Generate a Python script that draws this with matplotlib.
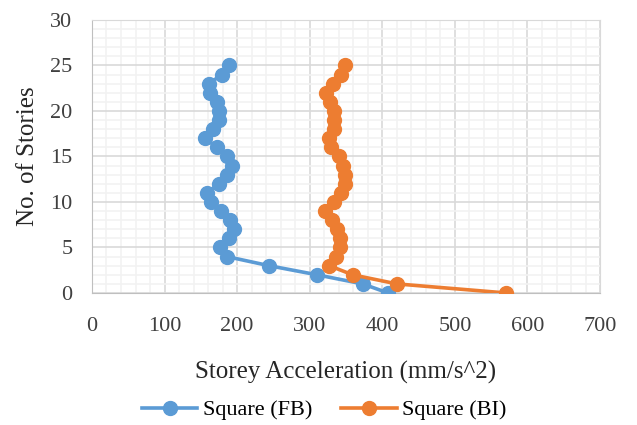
import matplotlib
matplotlib.use("Agg")
import matplotlib.pyplot as plt
from matplotlib.ticker import MultipleLocator

plt.rcParams['font.family'] = ['Liberation Serif', 'DejaVu Serif']

stories = list(range(26))
# storey acceleration (mm/s^2), story 0 .. 25
accel_fb = [408, 373, 310, 244, 186, 176, 189, 196, 190, 178,
            164, 158, 175, 186, 193, 186, 172, 156, 167, 175,
            175, 172, 162, 161, 179, 189]
accel_bi = [571, 420, 359, 327, 336, 342, 342, 337, 330, 321,
            333, 343, 349, 349, 346, 340, 329, 327, 334, 334,
            334, 328, 323, 332, 343, 349]

blue = '#5B9BD5'
orange = '#ED7D31'

fig = plt.figure(figsize=(6.37, 4.25), dpi=100)
ax = fig.add_axes([0.1444, 0.3106, 0.7976, 0.6424])

ax.plot(accel_fb, stories, '-o', color=blue, lw=2.6, ms=10, label='Square (FB)', zorder=3)
ax.plot(accel_bi, stories, '-o', color=orange, lw=2.6, ms=10, label='Square (BI)', zorder=3)

ax.set_xlim(0, 700)
ax.set_ylim(0, 30)
ax.xaxis.set_major_locator(MultipleLocator(100))
ax.xaxis.set_minor_locator(MultipleLocator(20))
ax.yaxis.set_major_locator(MultipleLocator(5))
ax.yaxis.set_minor_locator(MultipleLocator(1))
ax.grid(which='major', color='#D9D9D9', lw=1.2)
ax.grid(which='minor', color='#F2F2F2', lw=1.2)
ax.set_axisbelow(True)
ax.tick_params(which='both', length=0, labelsize=16, colors='#404040')
ax.tick_params(axis='x', pad=17)
ax.tick_params(axis='y', pad=14)
for s in ax.spines.values():
    s.set_color('#D9D9D9')
ax.spines['left'].set_color('#BFBFBF')
ax.spines['bottom'].set_color('#BFBFBF')

ax.set_xlabel('Storey Acceleration (mm/s^2)', fontsize=18, color='#262626', labelpad=18)
ax.set_ylabel('No. of Stories', fontsize=18, color='#262626', labelpad=8)

fig.legend(*ax.get_legend_handles_labels(), loc='center', bbox_to_anchor=(0.509, 0.035),
           ncol=2, frameon=False, fontsize=16, handlelength=2.5,
           columnspacing=1.3, handletextpad=0.25, borderpad=0, borderaxespad=0)

fig.savefig('out.png', dpi=100)
